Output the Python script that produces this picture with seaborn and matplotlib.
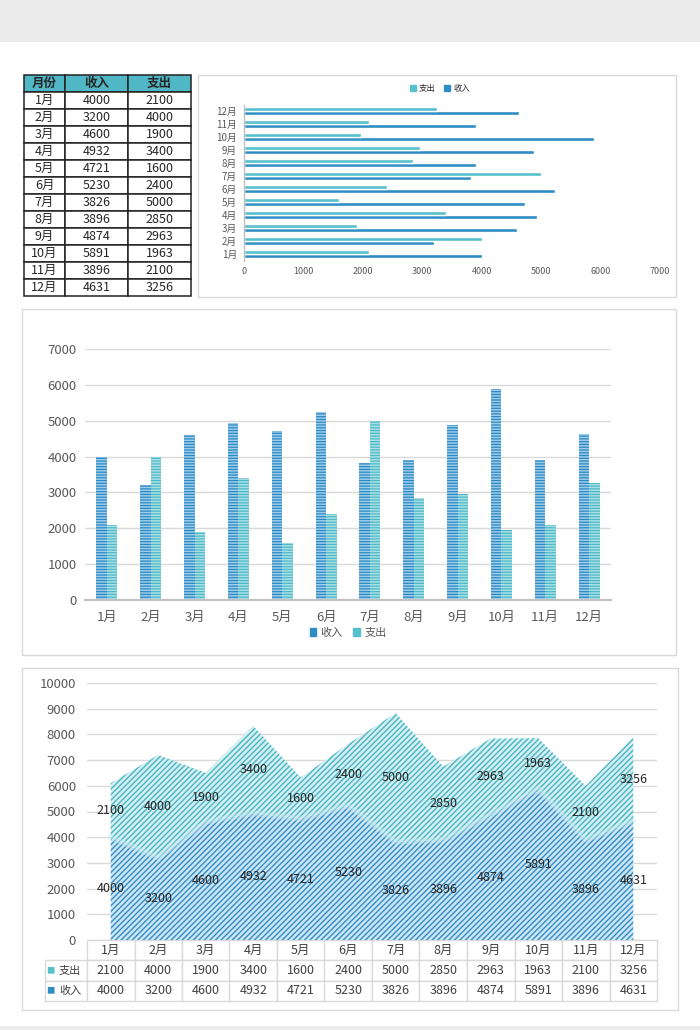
import numpy as np
import pandas as pd
import matplotlib
matplotlib.use("Agg")
import matplotlib.pyplot as plt
import seaborn as sns
from matplotlib.patches import Rectangle, Patch

# ---------------- data ----------------
months = ['1月', '2月', '3月', '4月', '5月', '6月', '7月', '8月', '9月', '10月', '11月', '12月']
income = [4000, 3200, 4600, 4932, 4721, 5230, 3826, 3896, 4874, 5891, 3896, 4631]
expense = [2100, 4000, 1900, 3400, 1600, 2400, 5000, 2850, 2963, 1963, 2100, 3256]
table_headers = ['月份', '收入', '支出']
series_names = ['收入', '支出']
hbar_ticks = [0, 1000, 2000, 3000, 4000, 5000, 6000, 7000]
col_ticks = [0, 1000, 2000, 3000, 4000, 5000, 6000, 7000]
area_ticks = [0, 1000, 2000, 3000, 4000, 5000, 6000, 7000, 8000, 9000, 10000]

# ---------------- style ----------------
sns.set_theme(style='white')
plt.rcParams['font.family'] = ['Noto Sans CJK SC', 'DejaVu Sans']
plt.rcParams['axes.unicode_minus'] = False
plt.rcParams['hatch.linewidth'] = 1.1

C_INC = '#2f8dc4'
C_EXP = '#56c0cc'
TICK_C = '#595959'
GRID_C = '#d9d9d9'

W, H = 700, 1030
fig = plt.figure(figsize=(W / 100, H / 100), dpi=100)
fig.patch.set_facecolor('white')


def rect(x0, y0, x1, y1):
    return [x0 / W, 1 - y1 / H, (x1 - x0) / W, (y1 - y0) / H]


def frame(x0, y0, x1, y1, fc='none', ec=GRID_C, lw=1.0):
    fig.add_artist(Rectangle((x0 / W, 1 - y1 / H), (x1 - x0) / W, (y1 - y0) / H,
                             transform=fig.transFigure, facecolor=fc, edgecolor=ec,
                             linewidth=lw, zorder=0))


# gray bands
frame(0, 0, 700, 42, fc='#ebebeb', ec='none', lw=0)
frame(0, 1026, 700, 1030, fc='#ebebeb', ec='none', lw=0)
# panel frames
frame(198, 75, 676, 297)
frame(22, 309, 676, 655)
frame(22, 668, 678, 1010)

df = pd.DataFrame({
    '月份': months * 2,
    '类型': ['收入'] * len(months) + ['支出'] * len(months),
    '金额': income + expense,
})
palette = {'收入': C_INC, '支出': C_EXP}

# ---------------- table ----------------
ax_t = fig.add_axes(rect(24, 75, 191, 296))
ax_t.axis('off')
cell_text = [[m, str(i), str(e)] for m, i, e in zip(months, income, expense)]
tb = ax_t.table(cellText=cell_text, colLabels=table_headers, colWidths=[41, 63, 63],
                bbox=[0, 0, 1, 1], cellLoc='center')
tb.auto_set_font_size(False)
tb.set_fontsize(9)
for (r, c), cell in tb.get_celld().items():
    cell.set_edgecolor('#222222')
    cell.set_linewidth(1.1)
    if r == 0:
        cell.set_facecolor('#4fb7c5')
        cell.get_text().set_fontweight('bold')

# ---------------- horizontal bars ----------------
ax_h = fig.add_axes(rect(244, 104.5, 660, 260.5))
sns.barplot(data=df, y='月份', x='金额', hue='类型', hue_order=series_names,
            palette=palette, orient='h', width=0.62, gap=0.15, saturation=1,
            ax=ax_h, legend=False)
ax_h.set_ylim(-0.5, 11.5)
ax_h.set_xlim(0, 7000)
ax_h.set_xticks(hbar_ticks)
ax_h.set_xlabel('')
ax_h.set_ylabel('')
for s in ['top', 'right', 'bottom']:
    ax_h.spines[s].set_visible(False)
ax_h.spines['left'].set_color('#bfbfbf')
ax_h.spines['left'].set_linewidth(1.0)
ax_h.tick_params(axis='x', labelsize=6.5, colors=TICK_C, length=0, pad=5)
ax_h.tick_params(axis='y', labelsize=7, colors=TICK_C, length=0, pad=5)
fig.legend(handles=[Patch(color=C_EXP), Patch(color=C_INC)], labels=['支出', '收入'],
           loc='center', bbox_to_anchor=(440 / W, 1 - 88 / H), ncol=2, frameon=False,
           fontsize=6, handlelength=0.7, handleheight=0.7, handletextpad=0.4,
           columnspacing=1.0)

# ---------------- column chart ----------------
ax_c = fig.add_axes(rect(85, 349, 611, 600))
sns.barplot(data=df, x='月份', y='金额', hue='类型', hue_order=series_names,
            palette=palette, width=0.48, saturation=1, ax=ax_c, legend=False)
hatch_cols = {'收入': ('#2c88c2', '#9ccdea'), '支出': ('#4db8c6', '#a9e0e6')}
for cont, name in zip(ax_c.containers, series_names):
    fc, hc = hatch_cols[name]
    for p in cont.patches:
        p.set_facecolor(fc)
        p.set_edgecolor(hc)
        p.set_hatch('------')
        p.set_linewidth(0)
ax_c.set_ylim(0, 7000)
ax_c.set_yticks(col_ticks)
ax_c.set_xlabel('')
ax_c.set_ylabel('')
ax_c.yaxis.grid(True, color=GRID_C, linewidth=1)
ax_c.set_axisbelow(True)
for s in ['top', 'right', 'left']:
    ax_c.spines[s].set_visible(False)
ax_c.spines['bottom'].set_color('#bfbfbf')
ax_c.spines['bottom'].set_linewidth(1.5)
ax_c.tick_params(axis='y', labelsize=9.5, colors=TICK_C, length=0, pad=6)
ax_c.tick_params(axis='x', labelsize=9.5, colors=TICK_C, length=0, pad=8)
ax_c.legend(handles=[Patch(color=C_INC), Patch(color=C_EXP)], labels=series_names,
            loc='center', bbox_to_anchor=(0.5, -33 / 251), ncol=2, frameon=False,
            fontsize=8, handlelength=0.6, handleheight=0.8, handletextpad=0.4,
            columnspacing=0.9, labelcolor=TICK_C)

# ---------------- stacked area chart ----------------
ax_a = fig.add_axes(rect(87, 683, 657, 940))
x = np.arange(len(months))
inc = np.array(income)
tot = inc + np.array(expense)
ax_a.fill_between(x, 0, inc, facecolor='#d0e7f4', edgecolor='#3a93cb',
                  hatch='//////', linewidth=0, zorder=2)
ax_a.fill_between(x, inc, tot, facecolor='#d8f0f3', edgecolor='#4fb9c7',
                  hatch='//////', linewidth=0, zorder=2)
sns.lineplot(x=x, y=inc, color='#c6ebf1', linewidth=4, alpha=0.45, ax=ax_a, zorder=3)
for i in range(len(months)):
    ax_a.text(i, income[i] / 2, str(income[i]), ha='center', va='center',
              fontsize=9, color='#262626', zorder=5)
    ax_a.text(i, income[i] + expense[i] / 2, str(expense[i]), ha='center', va='center',
              fontsize=9, color='#262626', zorder=5)
ax_a.set_xlim(-0.5, len(months) - 0.5)
ax_a.set_ylim(0, 10000)
ax_a.set_yticks(area_ticks)
ax_a.set_xticks([])
ax_a.yaxis.grid(True, color=GRID_C, linewidth=1)
ax_a.set_axisbelow(True)
for s in ['top', 'right', 'left', 'bottom']:
    ax_a.spines[s].set_visible(False)
ax_a.tick_params(axis='y', labelsize=9.5, colors=TICK_C, length=0, pad=8)

tbl_rows = [[''] + [str(v) for v in expense], [''] + [str(v) for v in income]]
tb2 = ax_a.table(cellText=tbl_rows, colLabels=[''] + months,
                 colWidths=[42] + [47.5] * len(months),
                 bbox=[-42 / 570, -61 / 257, 612 / 570, 61 / 257], cellLoc='center')
tb2.auto_set_font_size(False)
tb2.set_fontsize(9)
for (r, c), cell in tb2.get_celld().items():
    cell.set_edgecolor(GRID_C)
    cell.set_linewidth(1)
    cell.get_text().set_color('#404040')
    if r == 0 and c == 0:
        cell.visible_edges = 'open'
for name, color, yy in [('支出', C_EXP, 971), ('收入', C_INC, 991)]:
    yax = -(yy - 940) / 257
    ax_a.text((50 - 87) / 570, yax, '■', color=color, fontsize=6, ha='center', va='center',
              transform=ax_a.transAxes)
    ax_a.text((70 - 87) / 570, yax, name, color='#404040', fontsize=8, ha='center',
              va='center', transform=ax_a.transAxes)

fig.savefig('out.png', dpi=100, facecolor='white')
